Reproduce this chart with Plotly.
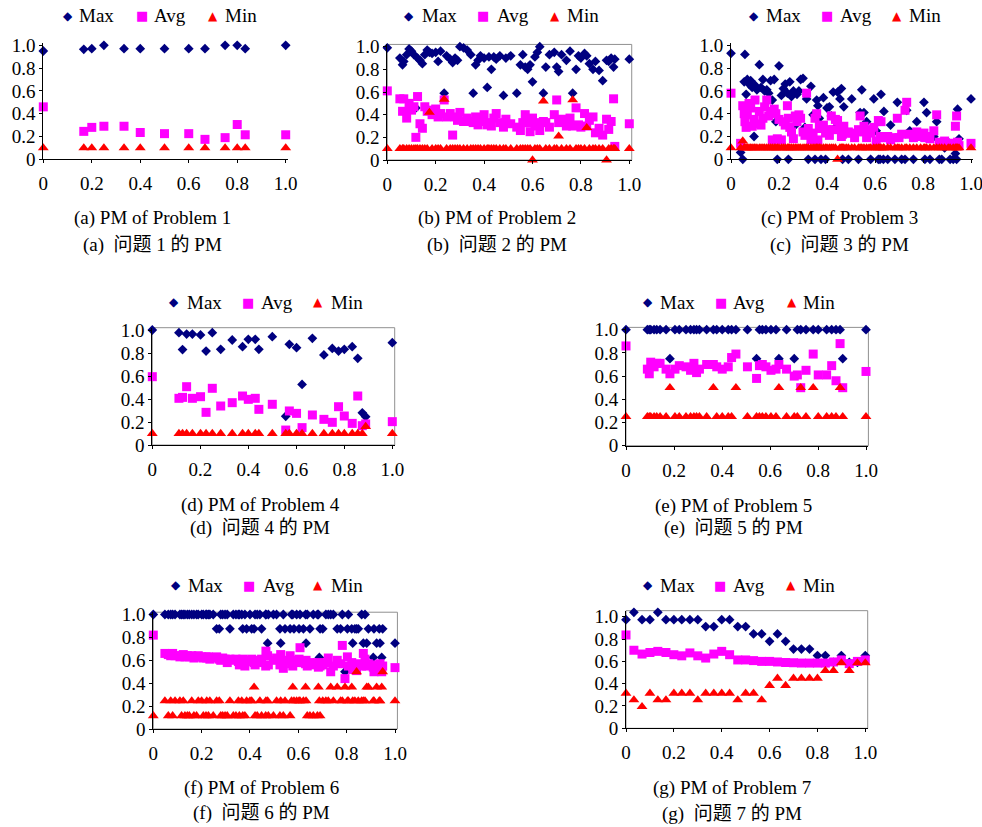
import plotly.graph_objects as go

W, H = 982, 827

# ---------------- Panel (a): Problem 1 ----------------
A_X = [0, 0.167, 0.2, 0.25, 0.333, 0.4, 0.5, 0.6, 0.667, 0.75, 0.8, 0.833, 1.0]
A_MAX = [0.95, 0.965, 0.97, 1.0, 0.97, 0.97, 0.97, 0.97, 0.97, 1.0, 1.0, 0.97, 1.0]
A_AVG = [0.46, 0.245, 0.28, 0.29, 0.29, 0.235, 0.225, 0.225, 0.175, 0.19, 0.305, 0.215, 0.215]
A_MIN = [0.1, 0.1, 0.1, 0.1, 0.1, 0.1, 0.1, 0.1, 0.1, 0.1, 0.1, 0.1, 0.1]

# ---------------- Panel (b): Problem 2 ----------------
B_X = [0, 0.052, 0.063, 0.068, 0.08, 0.09, 0.10, 0.11, 0.118, 0.125,
       0.135, 0.145, 0.155, 0.165, 0.174, 0.185, 0.2, 0.21, 0.22, 0.235,
       0.245, 0.26, 0.27, 0.28, 0.29, 0.3, 0.315, 0.33, 0.345, 0.355,
       0.365, 0.375, 0.385, 0.40, 0.413, 0.42, 0.43, 0.44, 0.45, 0.465,
       0.48, 0.49, 0.51, 0.535, 0.55, 0.56, 0.57, 0.58, 0.59, 0.60,
       0.61, 0.62, 0.63, 0.645, 0.655, 0.67, 0.69, 0.70, 0.708, 0.72,
       0.74, 0.755, 0.766, 0.78, 0.79, 0.80, 0.815, 0.824, 0.835, 0.85,
       0.86, 0.875, 0.89, 0.906, 0.915, 0.925, 0.935, 0.94, 1.0]
B_MAX = [0.99, 0.90, 0.84, 0.87, 0.93, 0.98, 0.96, 0.93, 0.46, 0.90,
         0.88, 0.85, 0.93, 0.97, 0.95, 0.94, 0.95, 0.87, 0.96, 0.59,
         0.92, 0.89, 0.86, 0.90, 0.88, 1.0, 0.99, 0.97, 0.93, 0.59,
         0.84, 0.88, 0.92, 0.90, 0.64, 0.91, 0.80, 0.91, 0.89, 0.92,
         0.57, 0.90, 0.92, 0.59, 0.84, 0.93, 0.82, 0.80, 0.84, 0.69,
         0.91, 0.95, 1.0, 0.59, 0.82, 0.93, 0.95, 0.82, 0.78, 0.93,
         0.88, 0.96, 0.59, 0.80, 0.92, 0.90, 0.94, 0.92, 0.85, 0.80,
         0.87, 0.79, 0.70, 0.88, 0.87, 0.90, 0.82, 0.89, 0.89]
B_AVG = [0.61, 0.54, 0.43, 0.54, 0.37, 0.50, 0.44, 0.47, 0.20, 0.56,
         0.32, 0.28, 0.47, 0.43, 0.44, 0.40, 0.45, 0.38, 0.41, 0.53,
         0.38, 0.41, 0.22, 0.38, 0.35, 0.42, 0.34, 0.37, 0.34, 0.33,
         0.38, 0.31, 0.34, 0.40, 0.31, 0.33, 0.30, 0.37, 0.41, 0.33,
         0.29, 0.36, 0.32, 0.29, 0.26, 0.33, 0.40, 0.33, 0.25, 0.37,
         0.30, 0.33, 0.26, 0.34, 0.33, 0.29, 0.40, 0.53, 0.33, 0.36,
         0.30, 0.37, 0.30, 0.46, 0.31, 0.29, 0.41, 0.30, 0.35, 0.38,
         0.24, 0.28, 0.22, 0.36, 0.27, 0.34, 0.54, 0.12, 0.32]
B_MIN = [0.1, 0.1, 0.1, 0.1, 0.1, 0.1, 0.1, 0.1, 0.1, 0.1,
         0.1, 0.1, 0.1, 0.1, 0.42, 0.1, 0.1, 0.1, 0.1, 0.535,
         0.1, 0.1, 0.1, 0.1, 0.1, 0.1, 0.1, 0.1, 0.1, 0.1,
         0.1, 0.1, 0.1, 0.1, 0.1, 0.1, 0.1, 0.1, 0.1, 0.1,
         0.1, 0.1, 0.1, 0.1, 0.1, 0.1, 0.1, 0.1, 0.1, 0.0,
         0.1, 0.1, 0.1, 0.52, 0.1, 0.1, 0.1, 0.1, 0.21, 0.1,
         0.1, 0.1, 0.53, 0.1, 0.1, 0.1, 0.1, 0.285, 0.1, 0.1,
         0.1, 0.1, 0.1, 0.0, 0.1, 0.1, 0.1, 0.1, 0.1]

# ---------------- Panel (c): Problem 3 ----------------
C_X = [0.000, 0.040, 0.049, 0.055, 0.058, 0.063, 0.068, 0.075, 0.082, 0.088,
       0.096, 0.100, 0.108, 0.118, 0.125, 0.133, 0.140, 0.149, 0.157, 0.165,
       0.172, 0.180, 0.187, 0.193, 0.200, 0.210, 0.218, 0.226, 0.235, 0.239,
       0.245, 0.252, 0.260, 0.268, 0.275, 0.283, 0.290, 0.300, 0.308, 0.315,
       0.322, 0.333, 0.342, 0.350, 0.357, 0.362, 0.368, 0.375, 0.385, 0.394,
       0.400, 0.410, 0.418, 0.426, 0.435, 0.444, 0.454, 0.460, 0.465, 0.470,
       0.480, 0.489, 0.503, 0.515, 0.531, 0.538, 0.545, 0.554, 0.565, 0.575,
       0.582, 0.595, 0.605, 0.614, 0.621, 0.625, 0.635, 0.637, 0.653, 0.665,
       0.683, 0.693, 0.700, 0.711, 0.725, 0.732, 0.745, 0.760, 0.774, 0.790,
       0.804, 0.808, 0.815, 0.829, 0.845, 0.857, 0.868, 0.878, 0.890, 0.905,
       0.913, 0.926, 0.935, 0.940, 0.944, 0.950, 1.000]
C_MAX = [0.93, 0.06, 0.00, 0.68, 0.92, 0.57, 0.70, 0.66, 0.69, 0.63,
         0.20, 0.65, 0.61, 0.83, 0.63, 0.70, 0.60, 0.61, 0.58, 0.69,
         0.52, 0.70, 0.33, 0.00, 0.82, 0.56, 0.62, 0.66, 0.58, 0.00,
         0.68, 0.55, 0.60, 0.30, 0.57, 0.60, 0.70, 0.71, 0.28, 0.53,
         0.00, 0.64, 0.39, 0.00, 0.52, 0.47, 0.36, 0.00, 0.54, 0.00,
         0.45, 0.46, 0.38, 0.59, 0.28, 0.59, 0.53, 0.62, 0.00, 0.46,
         0.25, 0.00, 0.53, 0.22, 0.00, 0.41, 0.61, 0.41, 0.33, 0.22,
         0.00, 0.53, 0.25, 0.00, 0.00, 0.57, 0.00, 0.42, 0.00, 0.30,
         0.00, 0.50, 0.20, 0.00, 0.00, 0.43, 0.25, 0.00, 0.33, 0.20,
         0.50, 0.00, 0.41, 0.00, 0.20, 0.33, 0.00, 0.00, 0.10, 0.15,
         0.00, 0.00, 0.05, 0.00, 0.44, 0.18, 0.53]
C_AVG = [0.58, 0.14, 0.47, 0.40, 0.33, 0.28, 0.39, 0.49, 0.45, 0.29,
         0.35, 0.52, 0.31, 0.42, 0.30, 0.36, 0.46, 0.52, 0.38, 0.42,
         0.17, 0.44, 0.40, 0.18, 0.35, 0.17, 0.33, 0.30, 0.47, 0.36,
         0.28, 0.24, 0.18, 0.38, 0.33, 0.39, 0.36, 0.24, 0.21, 0.58,
         0.27, 0.17, 0.23, 0.36, 0.40, 0.17, 0.29, 0.27, 0.30, 0.23,
         0.26, 0.21, 0.38, 0.26, 0.35, 0.34, 0.27, 0.20, 0.22, 0.29,
         0.23, 0.24, 0.23, 0.19, 0.26, 0.38, 0.24, 0.29, 0.19, 0.26,
         0.23, 0.28, 0.16, 0.34, 0.20, 0.33, 0.19, 0.19, 0.20, 0.17,
         0.19, 0.36, 0.19, 0.22, 0.43, 0.50, 0.22, 0.19, 0.24, 0.20,
         0.23, 0.19, 0.20, 0.18, 0.25, 0.39, 0.15, 0.14, 0.16, 0.14,
         0.13, 0.14, 0.29, 0.38, 0.15, 0.12, 0.14]
C_MIN = [0.10, 0.10, 0.16, 0.10, 0.10, 0.10, 0.10, 0.10, 0.10, 0.10,
         0.10, 0.10, 0.10, 0.10, 0.10, 0.10, 0.10, 0.10, 0.10, 0.10,
         0.10, 0.10, 0.10, 0.10, 0.10, 0.10, 0.10, 0.10, 0.10, 0.10,
         0.10, 0.10, 0.10, 0.10, 0.10, 0.10, 0.10, 0.10, 0.10, 0.10,
         0.10, 0.10, 0.10, 0.10, 0.10, 0.10, 0.10, 0.10, 0.10, 0.10,
         0.10, 0.10, 0.10, 0.10, 0.10, 0.00, 0.10, 0.10, 0.10, 0.10,
         0.10, 0.10, 0.10, 0.10, 0.10, 0.10, 0.10, 0.10, 0.10, 0.10,
         0.10, 0.10, 0.10, 0.10, 0.10, 0.10, 0.10, 0.10, 0.10, 0.10,
         0.10, 0.10, 0.10, 0.10, 0.10, 0.10, 0.10, 0.10, 0.10, 0.10,
         0.10, 0.10, 0.10, 0.10, 0.10, 0.10, 0.10, 0.10, 0.10, 0.10,
         0.10, 0.10, 0.10, 0.10, 0.10, 0.10, 0.10]

# ---------------- Panel (d): Problem 4 ----------------
D_X = [0, 0.111, 0.126, 0.143, 0.167, 0.201, 0.224, 0.25, 0.285, 0.333,
       0.376, 0.40, 0.429, 0.444, 0.5, 0.556, 0.571, 0.601, 0.624, 0.667,
       0.715, 0.75, 0.776, 0.8, 0.833, 0.856, 0.875, 0.889, 1.0]
D_MAX = [1.0, 0.977, 0.83, 0.965, 0.965, 0.957, 0.817, 0.977, 0.832, 0.913,
         0.855, 0.919, 0.919, 0.832, 0.942, 0.25, 0.875, 0.846, 0.527, 0.928,
         0.783, 0.84, 0.817, 0.832, 0.855, 0.754, 0.28, 0.246, 0.89]
D_AVG = [0.594, 0.406, 0.414, 0.507, 0.406, 0.42, 0.284, 0.493, 0.339, 0.368,
         0.426, 0.397, 0.406, 0.31, 0.354, 0.13, 0.296, 0.275, 0.151, 0.261,
         0.223, 0.197, 0.333, 0.252, 0.188, 0.426, 0.168, 0.183, 0.203]
D_MIN = [0.1, 0.1, 0.1, 0.1, 0.1, 0.1, 0.1, 0.1, 0.1, 0.1,
         0.1, 0.1, 0.1, 0.1, 0.1, 0.1, 0.1, 0.1, 0.1, 0.1,
         0.1, 0.1, 0.1, 0.1, 0.1, 0.1, 0.1, 0.16, 0.1]

# ---------------- Panel (e): Problem 5 ----------------
E_X = [0, 0.089, 0.097, 0.103, 0.117, 0.128, 0.142, 0.167, 0.183, 0.204,
       0.222, 0.25, 0.269, 0.283, 0.294, 0.306, 0.336, 0.364, 0.378, 0.401,
       0.426, 0.44, 0.458, 0.506, 0.544, 0.556, 0.568, 0.583, 0.604, 0.625,
       0.637, 0.669, 0.701, 0.714, 0.728, 0.75, 0.78, 0.801, 0.836, 0.857,
       0.875, 0.892, 0.903, 1.0]
E_MAX = [1.0, 1.0, 1.0, 1.0, 1.0, 1.0, 1.0, 1.0, 0.75, 1.0,
         1.0, 1.0, 1.0, 1.0, 1.0, 1.0, 1.0, 1.0, 1.0, 1.0,
         1.0, 1.0, 1.0, 1.0, 0.75, 1.0, 1.0, 1.0, 1.0, 1.0,
         0.75, 1.0, 0.75, 1.0, 1.0, 1.0, 1.0, 1.0, 1.0, 1.0,
         1.0, 1.0, 0.75, 1.0]
E_AVG = [0.86, 0.66, 0.62, 0.72, 0.68, 0.71, 0.71, 0.66, 0.62, 0.66,
         0.69, 0.68, 0.65, 0.71, 0.63, 0.66, 0.70, 0.70, 0.68, 0.66,
         0.68, 0.76, 0.79, 0.68, 0.58, 0.69, 0.70, 0.68, 0.65, 0.66,
         0.70, 0.66, 0.60, 0.61, 0.50, 0.65, 0.79, 0.61, 0.61, 0.69,
         0.56, 0.88, 0.50, 0.64]
E_MIN = [0.25, 0.25, 0.25, 0.25, 0.25, 0.25, 0.25, 0.25, 0.5, 0.25,
         0.25, 0.25, 0.25, 0.25, 0.25, 0.25, 0.25, 0.5, 0.25, 0.25,
         0.25, 0.25, 0.5, 0.25, 0.25, 0.25, 0.25, 0.25, 0.25, 0.25,
         0.5, 0.25, 0.25, 0.25, 0.5, 0.25, 0.5, 0.25, 0.25, 0.25,
         0.25, 0.5, 0.25, 0.25]

# ---------------- Panel (f): Problem 6 ----------------
F_X = [0.000, 0.048, 0.062, 0.072, 0.080, 0.090, 0.110, 0.117, 0.124, 0.131,
       0.141, 0.149, 0.159, 0.168, 0.179, 0.186, 0.200, 0.207, 0.218, 0.221,
       0.228, 0.234, 0.248, 0.262, 0.273, 0.279, 0.287, 0.297, 0.306, 0.317,
       0.331, 0.342, 0.352, 0.356, 0.366, 0.370, 0.379, 0.386, 0.400, 0.407,
       0.417, 0.421, 0.430, 0.441, 0.448, 0.465, 0.466, 0.473, 0.476, 0.497,
       0.510, 0.524, 0.527, 0.538, 0.545, 0.566, 0.572, 0.577, 0.582, 0.593,
       0.603, 0.607, 0.621, 0.630, 0.632, 0.637, 0.648, 0.662, 0.679, 0.683,
       0.687, 0.690, 0.701, 0.714, 0.724, 0.734, 0.745, 0.761, 0.775, 0.782,
       0.793, 0.803, 0.807, 0.821, 0.825, 0.834, 0.841, 0.848, 0.862, 0.869,
       0.876, 0.883, 0.890, 0.910, 0.913, 0.924, 0.935, 0.938, 0.945, 0.949,
       1.000]
F_MAX = [1.0, 1.0, 1.0, 1.0, 1.0, 1.0, 1.0, 1.0, 1.0, 1.0,
         1.0, 1.0, 1.0, 1.0, 1.0, 1.0, 1.0, 1.0, 1.0, 1.0,
         1.0, 1.0, 1.0, 0.875, 0.875, 1.0, 1.0, 1.0, 1.0, 0.875,
         1.0, 1.0, 1.0, 1.0, 1.0, 0.875, 1.0, 0.875, 1.0, 0.875,
         0.875, 1.0, 1.0, 1.0, 0.875, 1.0, 1.0, 0.75, 1.0, 1.0,
         1.0, 0.875, 0.75, 1.0, 0.875, 0.875, 1.0, 1.0, 0.875, 1.0,
         0.875, 1.0, 0.875, 1.0, 0.75, 1.0, 0.875, 1.0, 1.0, 1.0,
         0.625, 0.875, 0.875, 1.0, 1.0, 1.0, 1.0, 0.875, 0.875, 1.0,
         0.5, 0.875, 1.0, 0.875, 0.75, 0.875, 0.875, 0.875, 1.0, 0.75,
         1.0, 0.75, 0.875, 0.625, 0.875, 0.75, 0.875, 0.75, 0.625, 0.875,
         0.75]
F_AVG = [0.82, 0.66, 0.65, 0.64, 0.66, 0.64, 0.63, 0.64, 0.65, 0.63,
         0.64, 0.63, 0.64, 0.62, 0.63, 0.64, 0.63, 0.62, 0.63, 0.62,
         0.63, 0.61, 0.62, 0.63, 0.61, 0.60, 0.62, 0.61, 0.58, 0.61,
         0.60, 0.61, 0.59, 0.56, 0.60, 0.61, 0.55, 0.59, 0.60, 0.61,
         0.58, 0.56, 0.60, 0.58, 0.61, 0.55, 0.68, 0.64, 0.56, 0.60,
         0.62, 0.56, 0.65, 0.53, 0.60, 0.64, 0.57, 0.55, 0.60, 0.58,
         0.61, 0.71, 0.58, 0.57, 0.60, 0.55, 0.58, 0.56, 0.58, 0.54,
         0.57, 0.55, 0.56, 0.58, 0.62, 0.50, 0.55, 0.60, 0.57, 0.73,
         0.44, 0.63, 0.55, 0.58, 0.52, 0.56, 0.51, 0.57, 0.55, 0.66,
         0.61, 0.55, 0.57, 0.54, 0.50, 0.56, 0.52, 0.57, 0.50, 0.55,
         0.536]
F_MIN = [0.115, 0.245, 0.115, 0.245, 0.115, 0.245, 0.245, 0.115, 0.245, 0.115,
         0.115, 0.115, 0.245, 0.115, 0.115, 0.245, 0.245, 0.115, 0.115, 0.245,
         0.115, 0.245, 0.115, 0.245, 0.245, 0.115, 0.115, 0.115, 0.115, 0.245,
         0.115, 0.115, 0.245, 0.115, 0.245, 0.115, 0.115, 0.245, 0.245, 0.245,
         0.365, 0.115, 0.115, 0.245, 0.115, 0.115, 0.245, 0.245, 0.115, 0.115,
         0.245, 0.115, 0.245, 0.115, 0.245, 0.115, 0.245, 0.365, 0.245, 0.245,
         0.245, 0.245, 0.245, 0.365, 0.245, 0.115, 0.115, 0.115, 0.115, 0.365,
         0.245, 0.115, 0.245, 0.245, 0.245, 0.365, 0.245, 0.365, 0.245, 0.245,
         0.365, 0.245, 0.245, 0.365, 0.245, 0.245, 0.5, 0.245, 0.245, 0.245,
         0.245, 0.365, 0.365, 0.245, 0.245, 0.365, 0.245, 0.245, 0.365, 0.5,
         0.245]

# ---------------- Panel (g): Problem 7 ----------------
G_X = [0, 0.033, 0.067, 0.1, 0.133, 0.167, 0.2, 0.233, 0.267, 0.3,
       0.333, 0.367, 0.4, 0.433, 0.467, 0.5, 0.533, 0.567, 0.6, 0.633,
       0.667, 0.7, 0.733, 0.767, 0.8, 0.833, 0.867, 0.9, 0.933, 0.967, 1.0]
G_MAX = [0.974, 1.04, 0.974, 0.974, 1.04, 0.974, 0.974, 0.974, 0.974, 0.974,
         0.912, 0.912, 0.974, 0.974, 0.912, 0.912, 0.846, 0.846, 0.78, 0.846,
         0.78, 0.711, 0.711, 0.711, 0.652, 0.652, 0.592, 0.652, 0.592, 0.592, 0.652]
G_AVG = [0.837, 0.70, 0.666, 0.68, 0.69, 0.68, 0.66, 0.65, 0.676, 0.65,
         0.63, 0.666, 0.69, 0.66, 0.613, 0.613, 0.607, 0.60, 0.60, 0.595,
         0.59, 0.588, 0.585, 0.585, 0.585, 0.585, 0.595, 0.613, 0.58, 0.60, 0.613]
G_MIN = [0.314, 0.254, 0.194, 0.314, 0.254, 0.254, 0.314, 0.314, 0.314, 0.254,
         0.314, 0.314, 0.314, 0.314, 0.254, 0.314, 0.314, 0.254, 0.383, 0.448,
         0.383, 0.448, 0.448, 0.448, 0.448, 0.517, 0.517, 0.586, 0.517, 0.586, 0.586]

TICK_VALS = [0, 0.2, 0.4, 0.6, 0.8, 1.0]
TICK_TEXT = ["0", "0.2", "0.4", "0.6", "0.8", "1.0"]
SERIES_NAMES = ["Max", "Avg", "Min"]

# Layout specs (pixel geometry of each panel)
PANELS = [
    dict(data=(A_X, A_MAX, A_AVG, A_MIN), x0=43.3, ux=242.4, y0=159.3, uy=114.0, yr=1.02, frame=False,
         en="(a) PM of Problem 1", zh="(a)\u00a0\u00a0问题 1 的 PM", cx=152, cy=(218, 245),
         leg=(68, 78, 142, 153, 213, 224, 16)),
    dict(data=(B_X, B_MAX, B_AVG, B_MIN), x0=387.3, ux=242.0, y0=160.0, uy=113.3, yr=1.02, frame=True,
         en="(b) PM of Problem 2", zh="(b)\u00a0\u00a0问题 2 的 PM", cx=497, cy=(218, 245),
         leg=(409, 421, 483, 496, 555, 566, 16)),
    dict(data=(C_X, C_MAX, C_AVG, C_MIN), x0=731.0, ux=240.0, y0=159.3, uy=114.0, yr=1.02, frame=False,
         en="(c) PM of Problem 3", zh="(c)\u00a0\u00a0问题 3 的 PM", cx=839, cy=(218, 245),
         leg=(754, 765, 827, 839, 897, 908, 16)),
    dict(data=(D_X, D_MAX, D_AVG, D_MIN), x0=152.3, ux=240.0, y0=445.0, uy=115.0, yr=1.02, frame=True,
         en="(d) PM of Problem 4", zh="(d)\u00a0\u00a0问题 4 的 PM", cx=260, cy=(505, 528),
         leg=(174, 186, 248, 260, 318, 330, 302)),
    dict(data=(E_X, E_MAX, E_AVG, E_MIN), x0=626.0, ux=240.0, y0=445.7, uy=116.0, yr=1.02, frame=True,
         en="(e) PM of Problem 5", zh="(e)\u00a0\u00a0问题 5 的 PM", cx=733, cy=(506, 528),
         leg=(648, 659, 721, 732, 792, 802, 302)),
    dict(data=(F_X, F_MAX, F_AVG, F_MIN), x0=153.3, ux=241.7, y0=729.0, uy=114.5, yr=1.02, frame=True,
         en="(f) PM of Problem 6", zh="(f)\u00a0\u00a0问题 6 的 PM", cx=261, cy=(788, 813),
         leg=(176, 187, 249, 262, 318, 330, 585)),
    dict(data=(G_X, G_MAX, G_AVG, G_MIN), x0=626.0, ux=239.3, y0=728.3, uy=111.5, yr=1.055, frame=True,
         en="(g) PM of Problem 7", zh="(g)\u00a0\u00a0问题 7 的 PM", cx=732, cy=(788, 814),
         leg=(648, 659, 720, 732, 791, 802, 585)),
]

COLORS = ["#000080", "#FF00FF", "#FF0000"]
SYMBOLS = ["diamond", "square", "triangle-up"]
SIZES = [7.5, 9, 9.5]
LEG_GLYPHS = ["\u25C6", "\u25A0", "\u25B2"]
LEG_GLYPH_SIZES = [12, 13, 12]
SERIF = "Liberation Serif, Times New Roman, Noto Sans CJK SC, serif"
FS = 19
XR = 1.01


def px_x(v):
    return v / W


def px_y(v):
    return 1 - v / H


fig = go.Figure()
annotations = []
shapes = []
layout = {}

for i, p in enumerate(PANELS):
    n = "" if i == 0 else str(i + 1)
    xa, ya = "x" + n, "y" + n
    xs, ymax, yavg, ymin = p["data"]
    for k, ys in enumerate((ymax, yavg, ymin)):
        fig.add_trace(go.Scatter(
            x=xs, y=ys, xaxis=xa, yaxis=ya, mode="markers", name=SERIES_NAMES[k],
            marker=dict(symbol=SYMBOLS[k], size=SIZES[k], color=COLORS[k], line=dict(width=0)),
            cliponaxis=False, showlegend=False, hoverinfo="x+y+name"))
    xd = [px_x(p["x0"]), px_x(p["x0"] + p["ux"] * XR)]
    yd = [px_y(p["y0"]), px_y(p["y0"] - p["uy"] * p["yr"])]
    common = dict(showline=True, linecolor="black", linewidth=1, ticks="outside", ticklen=3,
                  tickcolor="black", tickwidth=1, showgrid=False, zeroline=False,
                  tickvals=TICK_VALS, ticktext=TICK_TEXT, fixedrange=True, automargin=False,
                  ticklabeloverflow="allow",
                  tickfont=dict(family=SERIF, size=FS, color="black"))
    layout["xaxis" + n] = dict(domain=xd, range=[0, XR], anchor=ya, ticklabelstandoff=4, **common)
    layout["yaxis" + n] = dict(domain=yd, range=[0, p["yr"]], anchor=xa, ticklabelstandoff=0, **common)
    if p["frame"]:
        shapes.append(dict(type="rect", xref=xa + " domain", yref=ya + " domain", x0=0, x1=1, y0=0, y1=1,
                           line=dict(color="#909090", width=1), layer="below"))
    # captions
    annotations.append(dict(text=p["en"], x=px_x(p["cx"]), y=px_y(p["cy"][0]), xref="paper", yref="paper",
                            xanchor="center", yanchor="middle", showarrow=False,
                            font=dict(family=SERIF, size=FS, color="black")))
    annotations.append(dict(text=p["zh"], x=px_x(p["cx"]), y=px_y(p["cy"][1]), xref="paper", yref="paper",
                            xanchor="center", yanchor="middle", showarrow=False,
                            font=dict(family=SERIF, size=FS, color="black")))
    # legend (glyph + label)
    lg = p["leg"]
    ly = px_y(lg[6])
    for k in range(3):
        annotations.append(dict(text=LEG_GLYPHS[k], x=px_x(lg[2 * k]), y=ly, xref="paper", yref="paper",
                                xanchor="center", yanchor="middle", showarrow=False,
                                font=dict(family="DejaVu Sans", size=LEG_GLYPH_SIZES[k], color=COLORS[k])))
        annotations.append(dict(text=SERIES_NAMES[k], x=px_x(lg[2 * k + 1]), y=ly, xref="paper", yref="paper",
                                xanchor="left", yanchor="middle", showarrow=False, borderpad=0,
                                font=dict(family=SERIF, size=FS, color="black")))

fig.update_layout(width=W, height=H, margin=dict(l=0, r=0, t=0, b=0, pad=0, autoexpand=False),
                  autosize=False, paper_bgcolor="white", plot_bgcolor="white", showlegend=False,
                  annotations=annotations, shapes=shapes, **layout)

# the page's default 8px body margin would push the 982x827 figure off the window
fig.write_html("out.html", config={"displayModeBar": False},
               post_script="document.body.style.margin='0';")
